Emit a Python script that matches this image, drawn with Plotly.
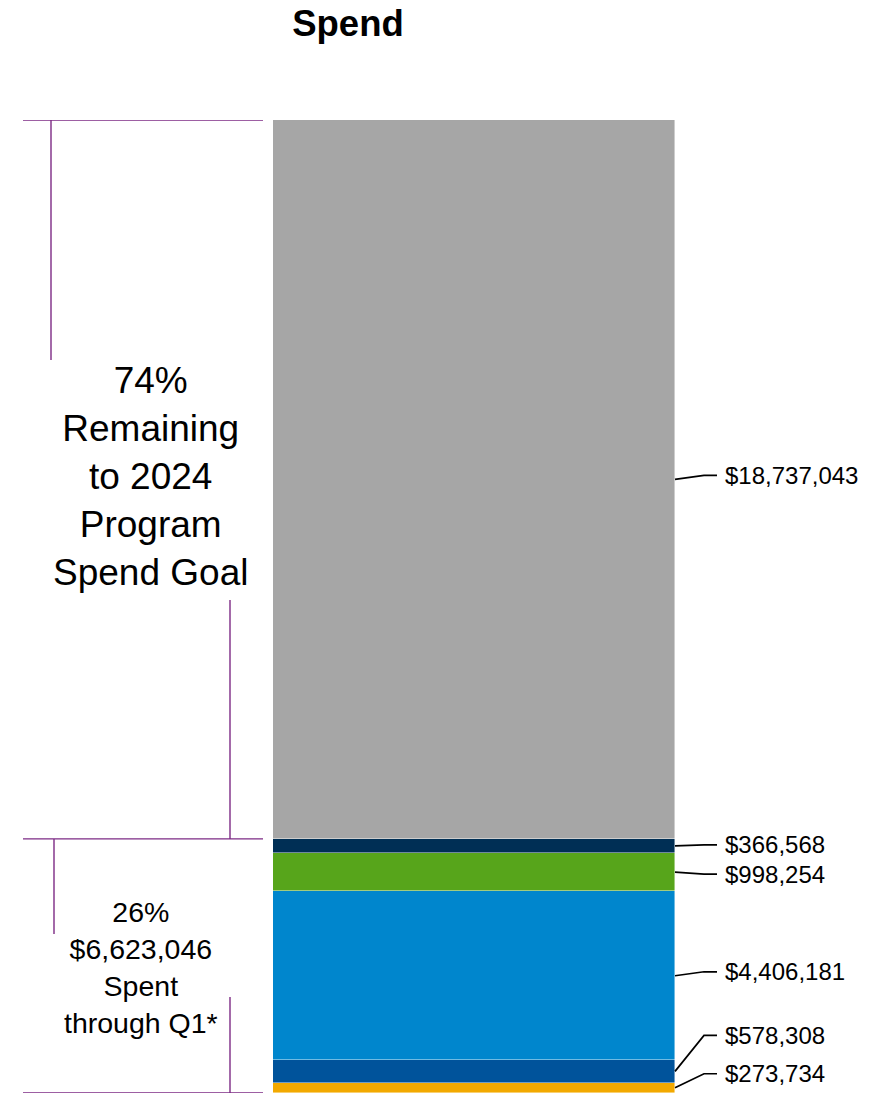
import plotly.graph_objects as go

# Program spend, stacked bottom to top
segment_names = ["Segment A", "Segment B", "Segment C", "Segment D", "Segment E", "Remaining"]
segment_values = [273734, 578308, 4406181, 998254, 366568, 18737043]
segment_colors = ["#F2A900", "#00539B", "#0086CD", "#57A51B", "#002F55", "#A6A6A6"]
# vertical pixel offset of each value label relative to its segment's middle
label_offsets_px = [-14, -36, -4, 2, -1, -4]

spent_total = 6623046
spent_pct = "26%"
remaining_pct = "74%"

W, H = 884, 1093
TOP, BOTTOM = 120, 0
PLOT_H = H - TOP - BOTTOM
total = sum(segment_values)

BAR_X, BAR_W = 474, 402
BAR_RIGHT = BAR_X + BAR_W / 2


def px_to_val(dpx):
    """Convert a vertical pixel distance into data units."""
    return dpx * total / PLOT_H


def val_at_px(py):
    """Data value drawn at absolute page pixel row py."""
    return (H - BOTTOM - py) * total / PLOT_H


FONT = "Liberation Sans, Arial, sans-serif"
PURPLE = "#7D2A85"

fig = go.Figure()
for name, v, c in zip(segment_names, segment_values, segment_colors):
    fig.add_trace(go.Bar(
        x=[BAR_X], y=[v], width=[BAR_W], name=name,
        marker=dict(color=c, line=dict(color="rgba(255,255,255,0.55)", width=0.8)),
        showlegend=False, hoverinfo="skip",
    ))

shapes = []
annotations = []

# value labels with elbow leader lines
base = 0
for v, off in zip(segment_values, label_offsets_px):
    mid = base + v / 2
    ty = mid - px_to_val(off)
    shapes.append(dict(
        type="path", xref="x", yref="y",
        path=f"M {BAR_RIGHT},{mid} L {BAR_RIGHT + 29},{ty} L {BAR_RIGHT + 42},{ty}",
        line=dict(color="black", width=1.7),
    ))
    annotations.append(dict(
        x=BAR_RIGHT + 48, y=ty, xref="x", yref="y", xanchor="left", yanchor="middle",
        text=f"${v:,}", showarrow=False, font=dict(family=FONT, size=24, color="black"),
    ))
    base += v

spent = total - segment_values[-1]

# bracket lines on the left
for yv in (total, spent, 0):
    shapes.append(dict(type="line", xref="x", yref="y", x0=23, x1=263, y0=yv, y1=yv,
                       line=dict(color=PURPLE, width=1.4)))
shapes += [
    dict(type="line", xref="x", yref="y", x0=51, x1=51, y0=total, y1=val_at_px(360),
         line=dict(color=PURPLE, width=1.4)),
    dict(type="line", xref="x", yref="y", x0=230, x1=230, y0=val_at_px(600), y1=spent,
         line=dict(color=PURPLE, width=1.4)),
    dict(type="line", xref="x", yref="y", x0=54, x1=54, y0=spent, y1=val_at_px(934),
         line=dict(color=PURPLE, width=1.4)),
    dict(type="line", xref="x", yref="y", x0=230, x1=230, y0=val_at_px(997), y1=0,
         line=dict(color=PURPLE, width=1.4)),
]

annotations.append(dict(
    x=150, y=val_at_px(476), xref="x", yref="y", xanchor="center", yanchor="middle",
    text=f"{remaining_pct}<br>Remaining<br>to 2024<br>Program<br>Spend Goal",
    showarrow=False, font=dict(family=FONT, size=37, color="black"),
))
annotations.append(dict(
    x=141, y=val_at_px(967), xref="x", yref="y", xanchor="center", yanchor="middle",
    text=f"{spent_pct}<br>${spent_total:,}<br>Spent<br>through Q1*",
    showarrow=False, font=dict(family=FONT, size=28.5, color="black"),
))

fig.update_layout(
    width=W, height=H,
    margin=dict(l=0, r=0, t=TOP, b=BOTTOM),
    paper_bgcolor="white", plot_bgcolor="white",
    barmode="stack", bargap=0,
    title=dict(text="<b>Spend</b>", x=348 / W, xanchor="center", xref="paper",
               y=1 - 23 / H, yanchor="middle", yref="container",
               font=dict(family=FONT, size=36.5, color="black")),
    xaxis=dict(range=[0, W], visible=False, fixedrange=True),
    yaxis=dict(range=[0, total], visible=False, fixedrange=True),
    shapes=shapes, annotations=annotations,
)

fig.write_html("out.html")
